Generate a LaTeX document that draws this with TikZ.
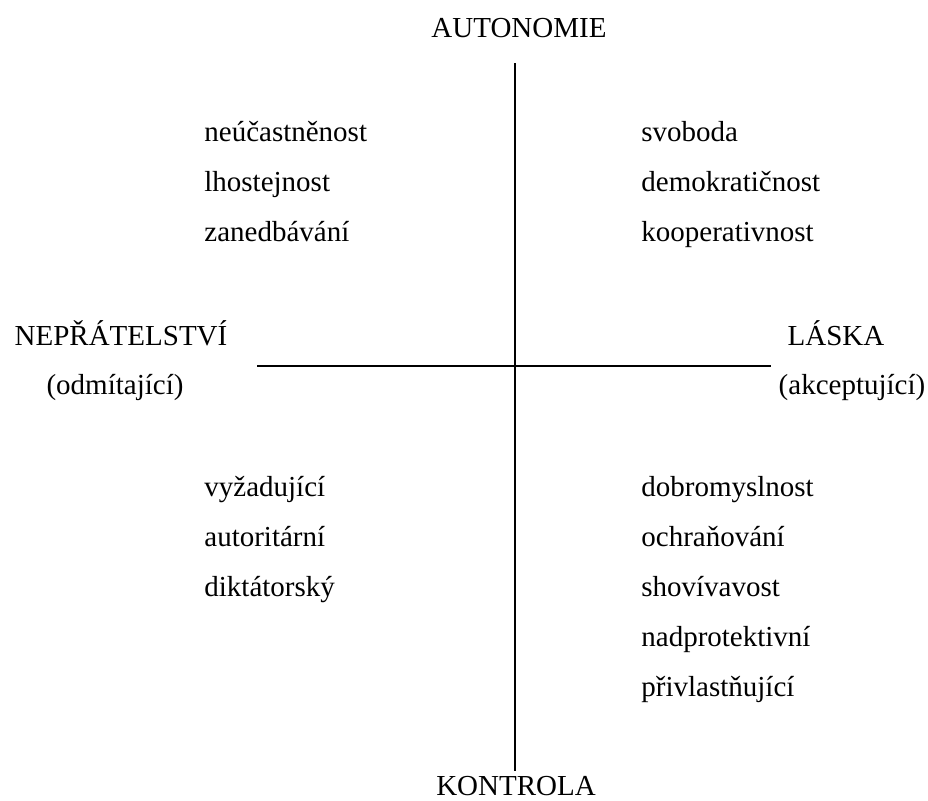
\documentclass[tikz,border=0pt]{standalone}
\usepackage{fontspec}
\setmainfont{Liberation Serif}
\usepackage{tikz}
\usetikzlibrary{positioning}
\tikzstyle{axislabel}=[inner sep=0pt,anchor=base,font=\fontsize{14.5}{17}\selectfont]
\tikzstyle{item}=[inner sep=0pt,anchor=base west,font=\fontsize{14.5}{17}\selectfont]
\tikzstyle{axis} = [draw,line width=1pt]

\begin{document}
\begin{tikzpicture}[x=0.5pt,y=-0.5pt]
    \useasboundingbox (0,0) rectangle (928,800);

    % The axes
    \coordinate (top) at (515,63);
    \coordinate (bottom) at (515,771);
    \coordinate (left) at (257,366);
    \coordinate (right) at (771,366);
    \path[axis] (top) -- (bottom);
    \path[axis] (left) -- (right);

    % Names of the poles
    \foreach \pos/\name/\label in {{(519,37)/aut/AUTONOMIE}, {(516,795)/kon/KONTROLA}, {(121,345)/nep/NEPŘÁTELSTVÍ}, {(115,394)/odm/(odmítající)}, {(836,345)/las/LÁSKA}, {(852,394)/akc/(akceptující)}}
        \node[axislabel] (\name) at \pos {\label};

    % Upper quadrants
    \foreach \pos/\name/\label in {{(204,141)/ul1/neúčastněnost}, {(204,191)/ul2/lhostejnost}, {(204,241)/ul3/zanedbávání}, {(641,141)/ur1/svoboda}, {(641,191)/ur2/demokratičnost}, {(641,241)/ur3/kooperativnost}}
        \node[item] (\name) at \pos {\label};

    % Lower quadrants
    \foreach \pos/\name/\label in {{(204,496)/ll1/vyžadující}, {(204,546)/ll2/autoritární}, {(204,596)/ll3/diktátorský}, {(641,496)/lr1/dobromyslnost}, {(641,546)/lr2/ochraňování}, {(641,596)/lr3/shovívavost}, {(641,646)/lr4/nadprotektivní}, {(641,696)/lr5/přivlastňující}}
        \node[item] (\name) at \pos {\label};

\end{tikzpicture}
\end{document}
